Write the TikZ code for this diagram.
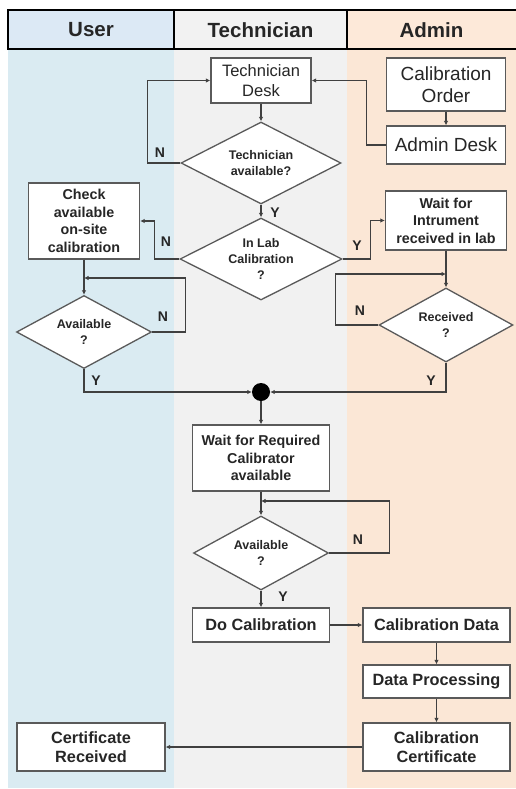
\documentclass[tikz,border=0pt]{standalone}
\usepackage{fontspec}
\setmainfont{Liberation Sans}
\usetikzlibrary{shapes.geometric,arrows.meta,shadows}

\definecolor{userlane}{RGB}{218,235,242}
\definecolor{techlane}{RGB}{241,241,241}
\definecolor{adminlane}{RGB}{251,231,214}
\definecolor{userhead}{RGB}{220,233,245}
\definecolor{techhead}{RGB}{242,242,242}
\definecolor{adminhead}{RGB}{253,233,217}
\definecolor{linegray}{RGB}{64,64,64}
\definecolor{boxgray}{RGB}{90,90,90}

\tikzset{
  boxbase/.style={draw=boxgray, fill=white, line width=1.3pt, inner sep=0pt,
    align=center, text=black!85,
    general shadow={shadow xshift=0.9pt, shadow yshift=-0.9pt, fill=black!45}},
  plainbox/.style={boxbase, font=\fontsize{16.5}{20}\selectfont},
  bigbox/.style={boxbase, font=\fontsize{19}{22}\selectfont},
  boldbox/.style={boxbase, font=\bfseries\fontsize{14.3}{17.5}\selectfont},
  wideboldbox/.style={boxbase, font=\bfseries\fontsize{16.3}{19}\selectfont},
  % negative inner sep keeps the text from enlarging the diamond,
  % so the minimum width/height give its exact size
  decision/.style={diamond, draw=boxgray, fill=white, line width=1.3pt,
    inner sep=-14pt, align=center, text=black!85,
    font=\bfseries\fontsize{12.5}{16}\selectfont},
  flow/.style={draw=linegray, line width=1.2pt,
    -{Latex[length=4.5pt,width=4.5pt]}},
  yn/.style={font=\bfseries\fontsize{14}{14}\selectfont, text=black!85},
  headtext/.style={font=\bfseries\fontsize{20.5}{22}\selectfont, text=black!85}
}

\begin{document}
\begin{tikzpicture}[x=1pt,y=-1pt]
\useasboundingbox (0,0) rectangle (516,789);

% swimlane backgrounds
\fill[userlane]  (8,49) rectangle (174,788);
\fill[techlane]  (174,49) rectangle (347,788);
\fill[adminlane] (347,49) rectangle (516,788);

% lane headers
\fill[userhead]  (8,10) rectangle (174,49);
\fill[techhead]  (174,10) rectangle (347,49);
\fill[adminhead] (347,10) rectangle (518,49);
\draw[black, line width=2pt] (8,10) rectangle (518,49);
\draw[black, line width=2pt] (174,10) -- (174,49);
\draw[black, line width=2pt] (347,10) -- (347,49);
\node[headtext] (huser) at (91,30) {User};
\node[headtext] (htech) at (260.5,30) {Technician};
\node[headtext] (hadmin) at (431.5,30) {Admin};

% process steps
\node[plainbox, minimum width=100, minimum height=45] (tdesk) at (261,80.5) {Technician\\Desk};
\node[bigbox, minimum width=119, minimum height=53] (corder) at (446,84.5) {Calibration\\Order};
\node[bigbox, minimum width=119, minimum height=38] (adesk) at (446,145) {Admin Desk};
\node[decision, minimum width=160, minimum height=82] (tavail) at (261,163) {Technician\\available?};
\node[decision, minimum width=162, minimum height=82] (inlab) at (261,259) {In Lab\\Calibration\\?};
\node[boldbox, minimum width=111, minimum height=76] (check) at (84,221) {Check\\available\\on-site\\calibration};
\node[decision, minimum width=135, minimum height=73] (avail1) at (84,332) {Available\\?};
\node[boldbox, minimum width=121, minimum height=59] (waitinst) at (446,220.5) {Wait for\\Intrument\\received in lab};
\node[decision, minimum width=134, minimum height=74] (recv) at (446,325) {Received\\?};
\node[circle, fill=black, minimum size=18, inner sep=0pt] (hub) at (261,392) {};
\node[boldbox, minimum width=137, minimum height=66] (waitcal) at (261,458) {Wait for Required\\Calibrator\\available};
\node[decision, minimum width=135, minimum height=74] (avail2) at (261,553) {Available\\?};
\node[wideboldbox, minimum width=137, minimum height=34] (docal) at (261,625) {Do Calibration};
\node[wideboldbox, minimum width=147, minimum height=34] (caldata) at (436.5,625) {Calibration Data};
\node[wideboldbox, minimum width=147, minimum height=33] (dproc) at (436.5,681.5) {Data Processing};
\node[wideboldbox, minimum width=147, minimum height=48] (calcert) at (436.5,747) {Calibration\\Certificate};
\node[wideboldbox, minimum width=148, minimum height=48] (certrec) at (91,747) {Certificate\\Received};

% loop re-entry points on the vertical flows
\coordinate (j1) at (84,278);
\coordinate (j2) at (446,274);
\coordinate (j3) at (261,501);

% connectors
\draw[flow] (tdesk.south) -- (tavail.north);
\draw[flow] (tavail.west) -- ++(-33,0) |- (tdesk.west);
\node[yn] (n1) at (160,153) {N};
\draw[flow] (corder.south) -- (adesk.north);
\draw[flow] (adesk.west) -- ++(-19,0) |- (tdesk.east);
\draw[flow] (tavail.south) -- (inlab.north);
\node[yn] (y1) at (275,213) {Y};
\draw[flow] (inlab.west) -- ++(-25,0) |- (check.east);
\node[yn] (n2) at (166,242) {N};
\draw[flow] (inlab.east) -- ++(28,0) |- (waitinst.west);
\node[yn] (y2) at (357,246) {Y};
\draw[flow] (check.south) -- (avail1.north);
\draw[flow] (avail1.east) -- ++(33,0) |- (j1);
\node[yn] (n3) at (163,317) {N};
\draw[flow] (avail1.south) |- (hub.west);
\node[yn] (y3) at (96,381) {Y};
\draw[flow] (waitinst.south) -- (recv.north);
\draw[flow] (recv.west) -- ++(-43,0) |- (j2);
\node[yn] (n4) at (360,311) {N};
\draw[flow] (recv.south) |- (hub.east);
\node[yn] (y4) at (431,381) {Y};
\draw[flow] (hub.south) -- (waitcal.north);
\draw[flow] (waitcal.south) -- (avail2.north);
\draw[flow] (avail2.east) -- ++(60,0) |- (j3);
\node[yn] (n5) at (358,540) {N};
\draw[flow] (avail2.south) -- (docal.north);
\node[yn] (y5) at (283,597) {Y};
\draw[flow] (docal.east) -- (caldata.west);
\draw[flow] (caldata.south) -- (dproc.north);
\draw[flow] (dproc.south) -- (calcert.north);
\draw[flow] (calcert.west) -- (certrec.east);
\end{tikzpicture}
\end{document}
